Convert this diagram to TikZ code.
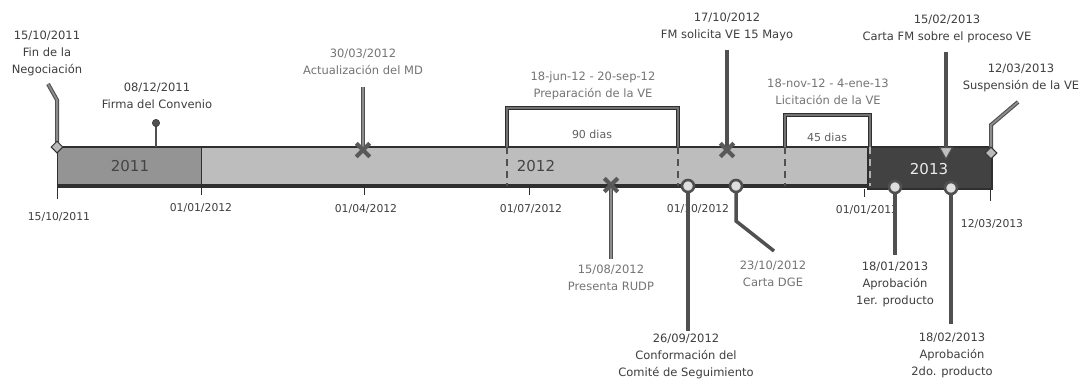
\documentclass[tikz,border=0pt]{standalone}
\usepackage{fontspec}
\setmainfont{DejaVu Sans}
\usetikzlibrary{shapes.geometric,shapes.misc,arrows.meta}
\definecolor{lbl}{HTML}{3E3E3E}
\definecolor{lblsoft}{HTML}{747474}
\definecolor{barA}{HTML}{949494}
\definecolor{barB}{HTML}{BDBDBD}
\definecolor{barC}{HTML}{424242}
\definecolor{edge}{HTML}{2F2F2F}
\definecolor{stem}{HTML}{505050}
\definecolor{stemsoft}{HTML}{8C8C8C}
\begin{document}
\begin{tikzpicture}[x=1pt,y=-1pt,
  evlabel/.style={font=\fontsize{11.5}{17}\selectfont, text=lbl, align=center, inner sep=0pt},
  softlabel/.style={evlabel, text=lblsoft},
  ticklabel/.style={font=\fontsize{10.8}{12}\selectfont, text=lbl, inner sep=0pt},
  yearlabel/.style={font=\fontsize{15}{18}\selectfont, inner sep=0pt},
  stemline/.style={draw=stem, line width=3.5pt},
  softstem/.style={draw=stem, line width=1.1pt, double=stemsoft, double distance=1.8pt},
  bracketline/.style={draw=edge, line width=1.1pt, double=stem!80, double distance=2.6pt},
  bardash/.style={draw=stem, line width=2pt, dash pattern=on 7pt off 5pt},
  tickline/.style={draw=edge, line width=0.8pt},
  diamondmark/.style={diamond, draw=edge, fill=gray!55, line width=1pt, minimum size=12pt, inner sep=0pt},
  dotmark/.style={circle, fill=stem, draw=edge, minimum size=7.5pt, inner sep=0pt},
  ringmark/.style={circle, draw=stem, line width=2.6pt, fill=gray!25, minimum size=12pt, inner sep=0pt},
  crossmark/.style={cross out, draw=gray!70!black, line width=4pt, minimum size=9.5pt, inner sep=0pt},
]
\useasboundingbox (0,0) rectangle (1082,381);
\fill[white] (0,0) rectangle (1082,381);

% ---------- bar ----------
\fill[barA] (57,147) rectangle (201,185);
\fill[barB] (201,147) rectangle (868,185);
\fill[barC] (868,147) rectangle (992,189);
\draw[edge, line width=1.5pt] (57,147) -- (868,147);
\draw[edge, line width=3.5pt] (57,186) -- (868,186);
\draw[edge, line width=1pt] (57,147) -- (57,186);
\draw[edge, line width=1pt] (201,147) -- (201,186);
\draw[edge, line width=1.5pt] (868,147) rectangle (992,189);

\node[yearlabel, text=edge!90] (y2011) at (130,166) {2011};
\node[yearlabel, text=edge!90] (y2012) at (536,166) {2012};
\node[yearlabel, text=white!92!black] (y2013) at (929,169) {2013};

% ---------- ticks ----------
\coordinate (t1) at (57,188);  \coordinate (t1e) at (57,199);
\coordinate (t2) at (201,188); \coordinate (t2e) at (201,195);
\coordinate (t3) at (364,188); \coordinate (t3e) at (364,195);
\coordinate (t4) at (529,188); \coordinate (t4e) at (529,195);
\coordinate (t6) at (864,189); \coordinate (t6e) at (864,197);
\coordinate (t7) at (990,190); \coordinate (t7e) at (990,201);
\foreach \a/\b in {t1/t1e,t2/t2e,t3/t3e,t4/t4e,t6/t6e,t7/t7e}{\draw[tickline] (\a) -- (\b);}

\node[ticklabel] (l1) at (59,217) {15/10/2011};
\node[ticklabel] (l2) at (201,208) {01/01/2012};
\node[ticklabel] (l3) at (366,209) {01/04/2012};
\node[ticklabel] (l4) at (531,209) {01/07/2012};
\node[ticklabel] (l5) at (698,209) {01/10/2012};
\node[ticklabel] (l6) at (867,210) {01/01/2013};
\node[ticklabel] (l7) at (992,224) {12/03/2013};

% ---------- brackets ----------
\coordinate (b1a) at (507,147); \coordinate (b1b) at (507,108);
\coordinate (b1c) at (678,108); \coordinate (b1d) at (678,147);
\draw[bracketline] (b1a) -- (b1b) -- (b1c) -- (b1d);
\draw[bardash] (507,147) -- (507,186);
\draw[bardash] (678,147) -- (678,186);
\node[evlabel, text=gray!75!black, font=\fontsize{11}{13}\selectfont] (d90) at (592,134) {90 dias};
\node[softlabel] (p1) at (593,86) {18-jun-12 - 20-sep-12\\Preparación de la VE};

\coordinate (b2a) at (785,147); \coordinate (b2b) at (785,115);
\coordinate (b2c) at (870,115); \coordinate (b2d) at (870,147);
\draw[bracketline] (b2a) -- (b2b) -- (b2c) -- (b2d);
\draw[bardash] (785,147) -- (785,186);
\draw[bardash, draw=gray!60] (870,147) -- (870,186);
\node[evlabel, text=gray!75!black, font=\fontsize{11}{13}\selectfont] (d45) at (827,137) {45 dias};
\node[softlabel] (p2) at (828,92) {18-nov-12 - 4-ene-13\\Licitación de la VE};

% ---------- top events ----------
% 15/10/2011
\coordinate (e1) at (57,147); \coordinate (e1k) at (57,100); \coordinate (e1t) at (48,84);
\draw[softstem] (e1) -- (e1k) -- (e1t);
\node[diamondmark] (m1) at (e1) {};
\node[evlabel] (n1) at (47,53) {15/10/2011\\Fin de la\\Negociación};

% 08/12/2011
\coordinate (e2) at (156,147); \coordinate (e2t) at (156,123);
\draw[stemline, line width=2.5pt] (e2) -- (e2t);
\node[dotmark] (m2) at (e2t) {};
\node[evlabel] (n2) at (157,96) {08/12/2011\\Firma del Convenio};

% 30/03/2012
\coordinate (e3) at (363,150); \coordinate (e3t) at (363,87);
\draw[softstem] (e3) -- (e3t);
\node[crossmark] (m3) at (e3) {};
\node[softlabel] (n3) at (363,62) {30/03/2012\\Actualización del MD};

% 17/10/2012
\coordinate (e4) at (727,150); \coordinate (e4t) at (727,50);
\draw[stemline] (e4) -- (e4t);
\node[crossmark] (m4) at (e4) {};
\node[evlabel] (n4) at (727,27) {17/10/2012\\FM solicita VE 15 Mayo};

% 15/02/2013
\coordinate (e5t) at (946,52); \coordinate (e5) at (946,160);
\draw[stemline, -{Triangle[length=13pt,width=14pt,line width=1pt,fill=gray!50]}] (e5t) -- (e5);
\node[evlabel] (n5) at (947,29) {15/02/2013\\Carta FM sobre el proceso VE};

% 12/03/2013
\coordinate (e6) at (991,153); \coordinate (e6k) at (991,125); \coordinate (e6t) at (1018,102);
\draw[softstem] (e6) -- (e6k) -- (e6t);
\node[diamondmark] (m6) at (e6) {};
\node[evlabel] (n6) at (1021,78) {12/03/2013\\Suspensión de la VE};

% ---------- bottom events ----------
% 15/08/2012
\coordinate (f1) at (611,185); \coordinate (f1b) at (611,259);
\draw[softstem] (f1) -- (f1b);
\node[crossmark] (g1) at (f1) {};
\node[softlabel] (h1) at (611,278) {15/08/2012\\Presenta RUDP};

% 26/09/2012
\coordinate (f2) at (688,186); \coordinate (f2b) at (688,331);
\draw[stemline] (f2) -- (f2b);
\node[ringmark] (g2) at (f2) {};
\node[evlabel] (h2) at (686,356) {26/09/2012\\Conformación del\\Comité de Seguimiento};

% 23/10/2012
\coordinate (f3) at (736,186); \coordinate (f3k) at (736,221); \coordinate (f3b) at (774,251);
\draw[stemline] (f3) -- (f3k) -- (f3b);
\node[ringmark] (g3) at (f3) {};
\node[softlabel] (h3) at (773,274) {23/10/2012\\Carta DGE};

% 18/01/2013
\coordinate (f4) at (895,187); \coordinate (f4b) at (895,255);
\draw[stemline] (f4) -- (f4b);
\node[ringmark] (g4) at (f4) {};
\node[evlabel] (h4) at (895,284) {18/01/2013\\Aprobación\\1er. producto};

% 18/02/2013
\coordinate (f5) at (951,188); \coordinate (f5b) at (951,324);
\draw[stemline] (f5) -- (f5b);
\node[ringmark] (g5) at (f5) {};
\node[evlabel] (h5) at (952,355) {18/02/2013\\Aprobación\\2do. producto};
\end{tikzpicture}
\end{document}
